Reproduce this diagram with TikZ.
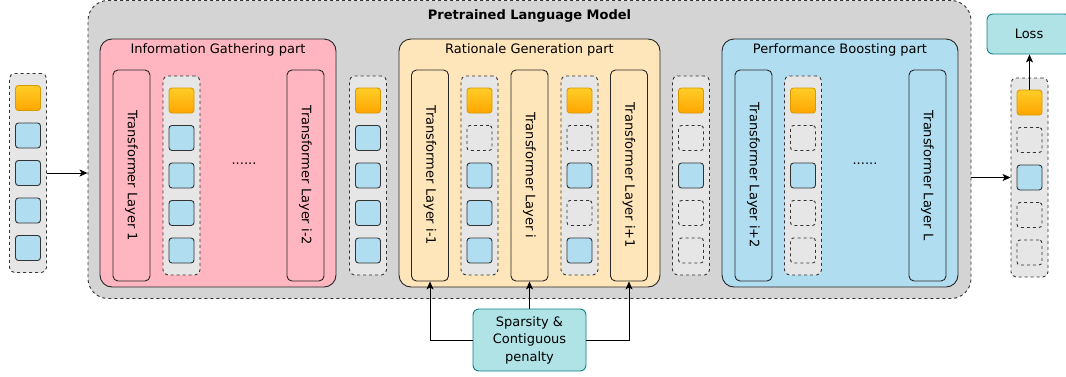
\documentclass[tikz,border=0pt]{standalone}
\usepackage{fontspec}
\setmainfont{DejaVu Sans}
\usetikzlibrary{positioning,arrows.meta}

\definecolor{plmgray}{HTML}{D4D4D4}
\definecolor{colgray}{HTML}{E6E6E6}
\definecolor{dashline}{HTML}{333333}
\definecolor{igpink}{HTML}{FFB6C1}
\definecolor{rgyellow}{HTML}{FFE6BA}
\definecolor{pbblue}{HTML}{B1DDF0}
\definecolor{tokyellow}{HTML}{FFCD28}
\definecolor{tokorange}{HTML}{FFA500}
\definecolor{orangeline}{HTML}{D79B00}
\definecolor{lossfill}{HTML}{B0E3E6}
\definecolor{lossline}{HTML}{0E8088}

\begin{document}
\begin{tikzpicture}[x=1pt,y=-1pt,>={Stealth[length=8pt,width=7pt,inset=2pt]},line width=0.9pt,font=\fontsize{13}{17.5}\selectfont]
    \tikzstyle{part}=[draw=black!85,rounded corners=12pt,minimum width=236pt,minimum height=248pt]
    \tikzstyle{layer}=[draw=black!85,rounded corners=5pt,minimum width=37pt,minimum height=211pt,inner sep=0pt]
    \tikzstyle{column}=[draw=dashline,dashed,fill=colgray,rounded corners=5pt,minimum width=37pt,minimum height=199pt]
    \tikzstyle{token}=[rounded corners=3pt,minimum size=25pt,inner sep=0pt]
    \tikzstyle{tok-o}=[token,draw=orangeline,top color=tokyellow,bottom color=tokorange]
    \tikzstyle{tok-b}=[token,draw=black!80,fill=pbblue]
    \tikzstyle{tok-e}=[token,draw=dashline,dashed,fill=colgray]
    \tikzstyle{penalty}=[draw=lossline,fill=lossfill,rounded corners=6pt,align=center]

    \useasboundingbox (0,0) rectangle (1066,376);

    % the language model
    \node[draw=dashline,dashed,fill=plmgray,rounded corners=20pt,minimum width=883pt,minimum height=298pt] (PLM) at (529.5,149.5) {};
    \node[font=\fontsize{13}{16}\selectfont\bfseries, below=6pt of PLM.north] {Pretrained Language Model};

    % the three parts
    \node[part,fill=igpink] (IG) at (218,163) {};
    \node[part,fill=rgyellow,minimum width=261pt] (RG) at (529.5,163) {};
    \node[part,fill=pbblue] (PB) at (840,163) {};
    \node[below=1pt of IG.north] {Information Gathering part};
    \node[below=1pt of RG.north] {Rationale Generation part};
    \node[below=1pt of PB.north] {Performance Boosting part};

    % transformer layers
    \node[layer,fill=igpink] (L-1) at (131.5,175.5) {\rotatebox{-90}{Transformer Layer 1}};
    \node[layer,fill=igpink] (L-i-2) at (305.5,175.5) {\rotatebox{-90}{Transformer Layer i-2}};
    \node[layer,fill=rgyellow] (L-i-1) at (430,175.5) {\rotatebox{-90}{Transformer Layer i-1}};
    \node[layer,fill=rgyellow] (L-i) at (529.5,175.5) {\rotatebox{-90}{Transformer Layer i}};
    \node[layer,fill=rgyellow] (L-i+1) at (629,175.5) {\rotatebox{-90}{Transformer Layer i+1}};
    \node[layer,fill=pbblue] (L-i+2) at (753.5,175.5) {\rotatebox{-90}{Transformer Layer i+2}};
    \node[layer,fill=pbblue] (L-L) at (927.5,175.5) {\rotatebox{-90}{Transformer Layer L}};
    \node (IG-dots) at (244,164) {......};
    \node (PB-dots) at (865,164) {......};

    % token columns (o: output token, b: kept, e: masked)
    \foreach \name/\x/\y/\pat in {In/28/173/{o,b,b,b,b}, C-1/181.5/175.5/{o,b,b,b,b},
        C-2/368/175.5/{o,b,b,b,b}, C-3/479.5/175.5/{o,e,b,b,b}, C-4/579.5/175.5/{o,e,b,e,b},
        C-5/691/175.5/{o,e,b,e,e}, C-6/803/175.5/{o,e,b,e,e}, Out/1029.5/177.5/{o,e,b,e,e}} {
        \node[column] (\name) at (\x,\y) {};
        \foreach \t [count=\k] in \pat
            \node[tok-\t] (\name-\k) at (\x,\y+37.5*\k-112.5) {};
    }

    \node[penalty,minimum width=84pt,minimum height=40pt] (Loss) at (1029,34) {Loss};
    \node[penalty,minimum width=113pt,minimum height=62pt,inner sep=2pt] (SP) at (529.5,340) {Sparsity \&\\Contiguous\\penalty};

    % connections
    \draw[->] (In.east) -- (In.east -| PLM.west);
    \draw[->] (PLM.east |- Out.west) -- (Out.west);
    \draw[->] (Out-1.north) -- (Out-1.north |- Loss.south);
    \draw[->] (SP.west) -| (L-i-1.south);
    \draw[->] (SP.north) -- (L-i.south);
    \draw[->] (SP.east) -| (L-i+1.south);
\end{tikzpicture}
\end{document}
